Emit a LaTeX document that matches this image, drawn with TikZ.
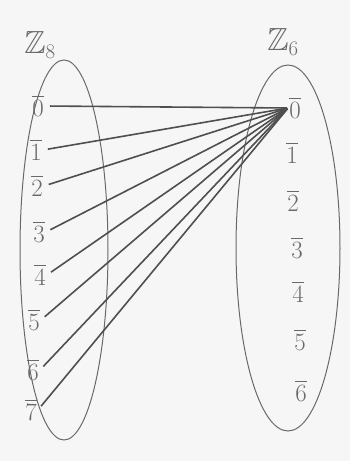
\documentclass[tikz,border=0pt]{standalone}
\usepackage{amsmath,amssymb}
\usepackage{xcolor}
\usetikzlibrary{positioning}
\definecolor{pencil}{RGB}{105,105,105}
\tikzset{
  zset/.style={draw=pencil,line width=1pt},
  zelem/.style={font=\fontsize{26}{30}\selectfont,text=pencil,inner sep=1pt},
  zname/.style={font=\fontsize{32}{36}\selectfont,text=pencil,inner sep=1pt},
  zmap/.style={draw=pencil!75!black,line width=1.6pt,shorten <=5pt,shorten >=1pt}
}
\begin{document}
\begin{tikzpicture}[x=1pt,y=-1pt]
  \fill[white!93!gray] (0,0) rectangle (350,461);
  \useasboundingbox (0,0) rectangle (350,461);
  % the two sets
  \draw[zset] (64,250) ellipse[x radius=44,y radius=190];
  \draw[zset] (288,248) ellipse[x radius=52,y radius=183];
  \node[zname] (zl) at (40,45) {$\mathbb{Z}_8$};
  \node[zname] (zr) at (283,42) {$\mathbb{Z}_6$};
  % elements of Z_8
  \node[zelem] (l0) at (38,106) {$\overline{0}$};
  \node[zelem] (l1) at (36,150) {$\overline{1}$};
  \node[zelem] (l2) at (37,186) {$\overline{2}$};
  \node[zelem] (l3) at (39,232) {$\overline{3}$};
  \node[zelem] (l4) at (40,275) {$\overline{4}$};
  \node[zelem] (l5) at (34,320) {$\overline{5}$};
  \node[zelem] (l6) at (33,370) {$\overline{6}$};
  \node[zelem] (l7) at (31,410) {$\overline{7}$};
  % elements of Z_6
  \node[zelem] (r0) at (295,108) {$\overline{0}$};
  \node[zelem] (r1) at (292,153) {$\overline{1}$};
  \node[zelem] (r2) at (293,201) {$\overline{2}$};
  \node[zelem] (r3) at (297,248) {$\overline{3}$};
  \node[zelem] (r4) at (298,292) {$\overline{4}$};
  \node[zelem] (r5) at (300,340) {$\overline{5}$};
  \node[zelem] (r6) at (301,391) {$\overline{6}$};
  % every class goes to 0
  \foreach \i in {0,...,7}
    \draw[zmap] (l\i.east) -- (r0.west);
\end{tikzpicture}
\end{document}
